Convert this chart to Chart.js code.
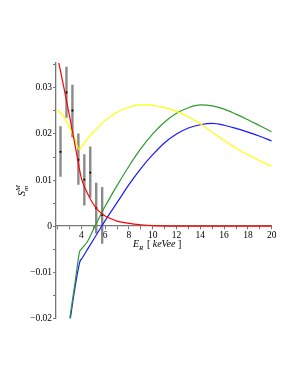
<!DOCTYPE html>
<html>
<head>
<meta charset="utf-8">
<script src="https://cdn.jsdelivr.net/npm/chart.js@4.4.1/dist/chart.umd.min.js"></script>
<style>
  body { margin: 0; background: #fff; }
  #wrap { width: 298px; height: 385px; }
</style>
</head>
<body>
<div id="wrap"><canvas id="chart"></canvas></div>
<script>
// curves (E_R in keVee, S_m^M)
const redX = [2, 2.5, 3, 3.5, 4, 4.5, 5, 5.5, 6, 6.5, 7, 8, 9, 10, 12, 14, 16, 18, 20];
const redY = [0.0367, 0.0305, 0.0240, 0.0172, 0.0104, 0.0072, 0.0048, 0.0032, 0.0022, 0.0016, 0.0011, 0.0006, 0.0003, 0.0001, 0, 0, 0, 0, 0];

const yellowX = [2, 2.5, 3, 3.5, 3.8, 4, 4.5, 5, 5.5, 6, 7, 8, 9, 10, 11, 12, 13, 14, 15, 16, 17, 18, 19, 20];
const yellowY = [0.0252, 0.0238, 0.0215, 0.0186, 0.0167, 0.0171, 0.0189, 0.0204, 0.0217, 0.0229, 0.0247, 0.0258, 0.0263, 0.0262, 0.0257, 0.0249, 0.0237, 0.0222, 0.0204, 0.0186, 0.0169, 0.0155, 0.0142, 0.0130];

const greenX = [3, 3.5, 3.85, 4, 4.5, 5, 5.5, 6, 7, 8, 9, 10, 11, 12, 13, 14, 15, 16, 17, 18, 19, 20];
const greenY = [-0.0205, -0.0117, -0.0056, -0.0050, -0.0034, -0.0008, 0.0018, 0.0043, 0.0088, 0.0130, 0.0168, 0.0200, 0.0226, 0.0245, 0.0257, 0.0263, 0.0261, 0.0254, 0.0243, 0.0231, 0.0218, 0.0205];

const blueX = [3.05, 3.5, 3.9, 4, 4.5, 5, 5.5, 6, 7, 8, 9, 10, 11, 12, 13, 14, 15, 16, 17, 18, 19, 20];
const blueY = [-0.0205, -0.0128, -0.0075, -0.0072, -0.0051, -0.0030, -0.0009, 0.0012, 0.0051, 0.0090, 0.0125, 0.0155, 0.0181, 0.0200, 0.0213, 0.0220, 0.0223, 0.0219, 0.0212, 0.0204, 0.0195, 0.0185];

// measured points with error bars
const dataX = [2.25, 2.75, 3.25, 3.75, 4.25, 4.75, 5.25, 5.75];
const dataY = [0.0161, 0.0290, 0.0251, 0.0144, 0.0101, 0.0116, 0.0039, 0.0024];
const dataLo = [0.0107, 0.0235, 0.0193, 0.0090, 0.0045, 0.0062, -0.0016, -0.0038];
const dataHi = [0.0217, 0.0346, 0.0307, 0.0201, 0.0156, 0.0173, 0.0094, 0.0085];

// axis ticks
const xTicks = [2, 3, 4, 5, 6, 7, 8, 9, 10, 11, 12, 13, 14, 15, 16, 17, 18, 19, 20];
const xLabels = [4, 6, 8, 10, 12, 14, 16, 18, 20];
const yTicks = [-0.02, -0.015, -0.01, -0.005, 0, 0.005, 0.01, 0.015, 0.02, 0.025, 0.03, 0.035];
const yLabels = { "-0.02": "\u22120.02", "-0.01": "\u22120.01", "0": "0", "0.01": "0.01", "0.02": "0.02", "0.03": "0.03" };

const pts = (xs, ys) => xs.map((x, i) => ({ x: x, y: ys[i] }));

// error bars as one broken line
const barPts = [];
dataX.forEach((x, i) => {
  barPts.push({ x: x, y: dataLo[i] }, { x: x, y: dataHi[i] }, { x: x, y: null });
});

const curve = (data, color) => ({
  data: data, borderColor: color, borderWidth: 1.2, pointRadius: 0,
  cubicInterpolationMode: "monotone", fill: false
});

const serif = "'Liberation Serif', 'DejaVu Serif', serif";

// axis titles
const titles = {
  id: "titles",
  afterDraw(chart) {
    const c = chart.ctx;
    c.save();
    c.fillStyle = "#000";
    c.textBaseline = "alphabetic";
    // x title
    let x = 133, y = 247;
    c.font = "italic 10px " + serif; c.fillText("E", x, y); x += c.measureText("E").width;
    c.font = "italic 7px " + serif; c.fillText("R", x, y + 2.5); x += c.measureText("R").width + 1;
    c.font = "10px " + serif; c.fillText(" [ ", x, y); x += c.measureText(" [ ").width;
    c.font = "italic 10px " + serif; c.fillText("keVee", x, y); x += c.measureText("keVee").width;
    c.font = "10px " + serif; c.fillText(" ]", x, y);
    // y title
    c.translate(25, 196);
    c.rotate(-Math.PI / 2);
    x = 0; y = 0;
    c.font = "italic 10px " + serif; c.fillText("S", x, y); x += c.measureText("S").width;
    c.font = "italic 7px " + serif; c.fillText("m", x, y + 2.5); c.fillText("M", x, y - 5);
    c.restore();
  }
};

new Chart(document.getElementById("chart"), {
  type: "line",
  data: {
    datasets: [
      curve(pts(redX, redY), "#ff0000"),
      curve(pts(yellowX, yellowY), "#ffff00"),
      curve(pts(greenX, greenY), "#2f9a2f"),
      curve(pts(blueX, blueY), "#1a1aff"),
      { type: "scatter", data: pts(dataX, dataY), pointRadius: 1.3, pointStyle: "rect",
        backgroundColor: "#000", borderColor: "#000", borderWidth: 0 },
      { data: barPts, borderColor: "#8a8a8a", borderWidth: 2.4, pointRadius: 0,
        spanGaps: false, tension: 0 }
    ]
  },
  options: {
    responsive: true,
    maintainAspectRatio: false,
    animation: false,
    layout: { padding: { left: 0, top: 63, right: 26.3, bottom: 66.7 } },
    plugins: { legend: { display: false }, tooltip: { enabled: false } },
    scales: {
      x: {
        type: "linear", min: 1.87, max: 20,
        position: { y: 0 },
        afterBuildTicks: s => { s.ticks = xTicks.map(v => ({ value: v })); },
        grid: { drawOnChartArea: false, drawTicks: true, tickLength: 3, color: "#777" },
        border: { color: "#777", width: 1.3 },
        ticks: {
          color: "#000", font: { family: serif, size: 9.5 }, padding: 1,
          maxRotation: 0, autoSkip: false,
          callback: v => xLabels.includes(v) ? String(v) : ""
        }
      },
      y: {
        type: "linear", min: -0.02, max: 0.0354,
        position: "left",
        afterFit: s => { s.width = 56; },
        afterBuildTicks: s => { s.ticks = yTicks.map(v => ({ value: v })); },
        grid: { drawOnChartArea: false, drawTicks: true, tickLength: 3, color: "#777" },
        border: { color: "#777", width: 1.3 },
        ticks: {
          color: "#000", font: { family: serif, size: 9.5 }, padding: 1,
          autoSkip: false,
          callback: v => yLabels[String(Math.round(v * 1000) / 1000)] || ""
        }
      }
    }
  },
  plugins: [titles]
});
</script>
</body>
</html>
